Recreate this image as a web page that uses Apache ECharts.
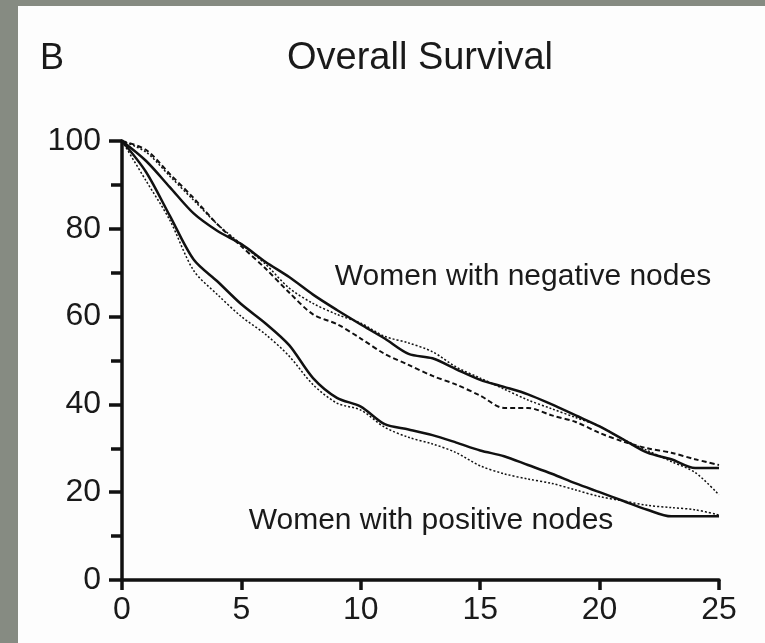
<!DOCTYPE html>
<html><head><meta charset="utf-8">
<script src="https://cdn.jsdelivr.net/npm/echarts@6/dist/echarts.min.js"></script>
<style>html,body{margin:0;padding:0;background:#868b82;}#c{width:765px;height:643px;}</style>
</head><body><div id="c"></div>
<script>
const years = [0,1,2,3,4,5,6,7,8,9,10,11,12,13,14,15,16,17,18,19,20,21,22,23,24,25];
const negSolid  = [100,95.5,89.5,83.5,79.5,76.5,72.5,69,65,61.5,58.2,55,51.5,50.5,48,45.6,44,42.3,40,37.5,35,32,29,27.5,25.5,25.5];
const negDashed = [100,98,92.5,87,81,76,71,65.5,60.5,58.3,55,51.5,49,46.5,44.5,42,39.2,39.2,37.5,36,33.5,31.5,30,29,27.5,26.2];
const negDotted = [100,97.5,92,86.5,81,76.5,72,66.5,63,60.5,58.5,55.5,54,52,48.5,46,43.5,41,39,37,35,32,29.5,27,24.5,19.4];
const posSolid  = [100,93,83,73,68,62.8,58.5,53.5,46,41.5,39.5,35.5,34.3,33,31.3,29.5,28.2,26.2,24.2,22,20,18,16,14.5,14.5,14.5];
const posDotted = [100,91,82,70.5,65,60,56,51,44.5,40.3,38.7,34.8,32.5,31,29,26,24.2,23,22,20.5,19,18,17,16.5,16,14.8];
const yTicks = [0,20,40,60,80,100];
const xTicks = [0,5,10,15,20,25];
const titleText = 'Overall Survival';
const panelLetter = 'B';
const labelNeg = 'Women with negative nodes';
const labelPos = 'Women with positive nodes';

const pair = arr => years.map((x,i)=>[x,arr[i]]);
const font = '"Liberation Sans", Arial, sans-serif';
function mk(name, data, type, width){
  return {name, type:'line', data:pair(data), showSymbol:false, smooth:0.3,
    lineStyle:{color:'#111', width, type}, z:3};
}
const chart = echarts.init(document.getElementById('c'));
chart.setOption({
  backgroundColor:'#868b82',
  animation:false,
  graphic:[
    {type:'rect', shape:{x:18,y:6,width:747,height:637}, style:{fill:'#fdfdfd'}, z:-10, silent:true},
    {type:'text', x:40, y:59, style:{text:panelLetter, font:'36px '+font, fill:'#1a1a1a', verticalAlign:'middle'}},
    {type:'text', x:420, y:59, style:{text:titleText, font:'38px '+font, fill:'#1a1a1a', align:'center', verticalAlign:'middle'}},
    {type:'text', x:523, y:277, style:{text:labelNeg, font:'30px '+font, fill:'#1a1a1a', align:'center', verticalAlign:'middle'}},
    {type:'text', x:431, y:521, style:{text:labelPos, font:'30px '+font, fill:'#1a1a1a', align:'center', verticalAlign:'middle'}}
  ],
  grid:{left:122, right:46, top:141, bottom:63, containLabel:false},
  xAxis:{type:'value', min:0, max:25, interval:5,
    axisLine:{lineStyle:{color:'#111', width:3.5}},
    axisTick:{show:true, length:10, lineStyle:{color:'#111', width:3.5}},
    axisLabel:{fontSize:32, fontFamily:'Liberation Sans', color:'#1a1a1a', margin:14,
      formatter: v => xTicks.includes(v) ? String(v) : ''},
    splitLine:{show:false}},
  yAxis:{type:'value', min:0, max:100, interval:20,
    axisLine:{show:true, lineStyle:{color:'#111', width:3.5}},
    axisTick:{show:true, length:13, lineStyle:{color:'#111', width:3.5}},
    minorTick:{show:true, splitNumber:2, length:11, lineStyle:{color:'#111', width:3.5}},
    axisLabel:{fontSize:32, fontFamily:'Liberation Sans', color:'#1a1a1a', margin:21,
      formatter: v => yTicks.includes(v) ? String(v) : ''},
    splitLine:{show:false}},
  series:[
    mk('negSolid', negSolid, 'solid', 2.5),
    mk('negDashed', negDashed, [5,3], 2),
    mk('negDotted', negDotted, [2,2], 1.5),
    mk('posSolid', posSolid, 'solid', 2.5),
    mk('posDotted', posDotted, [2,2], 1.5)
  ]
});
</script></body></html>
